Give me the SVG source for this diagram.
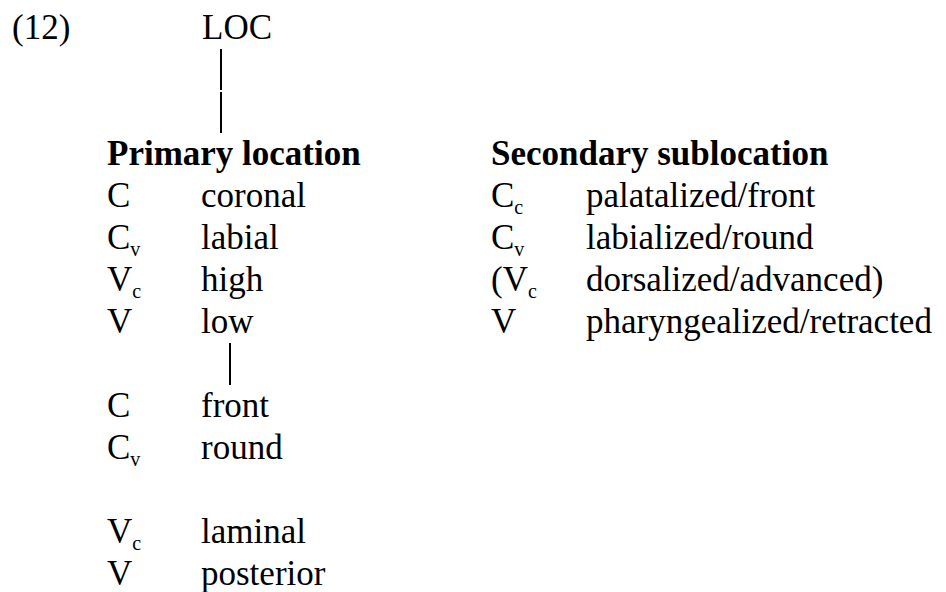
<svg xmlns="http://www.w3.org/2000/svg" width="946" height="592" viewBox="0 0 946 592">
<style>
text{font-family:"Liberation Serif","Times New Roman",serif;font-size:35px;fill:#000}
.b{font-weight:bold}
.s{font-size:20px}
.ln{stroke:#000;stroke-width:2;fill:none}
</style>
<rect width="946" height="592" fill="#fff"/>
<g id="connectors">
<line class="ln" x1="221" y1="49" x2="221" y2="90"/>
<line class="ln" x1="221" y1="92" x2="221" y2="133"/>
<line class="ln" x1="230" y1="343" x2="230" y2="385"/>
</g>
<g id="num"><text x="12" y="39">(12)</text></g>
<g id="loc"><text x="202" y="39">LOC</text></g>
<g id="primary">
<text class="b" x="107" y="165">Primary location</text>
<text x="107" y="207">C</text><text x="201" y="207">coronal</text>
<text x="107" y="249">C<tspan class="s" dy="7">v</tspan></text><text x="201" y="249">labial</text>
<text x="107" y="291">V<tspan class="s" dy="7">c</tspan></text><text x="201" y="291">high</text>
<text x="107" y="333">V</text><text x="201" y="333">low</text>
</g>
<g id="secondary-features">
<text x="107" y="417">C</text><text x="201" y="417">front</text>
<text x="107" y="459">C<tspan class="s" dy="7">v</tspan></text><text x="201" y="459">round</text>
<text x="107" y="543">V<tspan class="s" dy="7">c</tspan></text><text x="201" y="543">laminal</text>
<text x="107" y="585">V</text><text x="201" y="585">posterior</text>
</g>
<g id="secondary">
<text class="b" x="491" y="165">Secondary sublocation</text>
<text x="491" y="207">C<tspan class="s" dy="7">c</tspan></text><text x="586" y="207">palatalized/front</text>
<text x="491" y="249">C<tspan class="s" dy="7">v</tspan></text><text x="586" y="249">labialized/round</text>
<text x="491" y="291">(V<tspan class="s" dy="7">c</tspan></text><text x="586" y="291">dorsalized/advanced)</text>
<text x="491" y="333">V</text><text x="586" y="333">pharyngealized/retracted</text>
</g>
</svg>
